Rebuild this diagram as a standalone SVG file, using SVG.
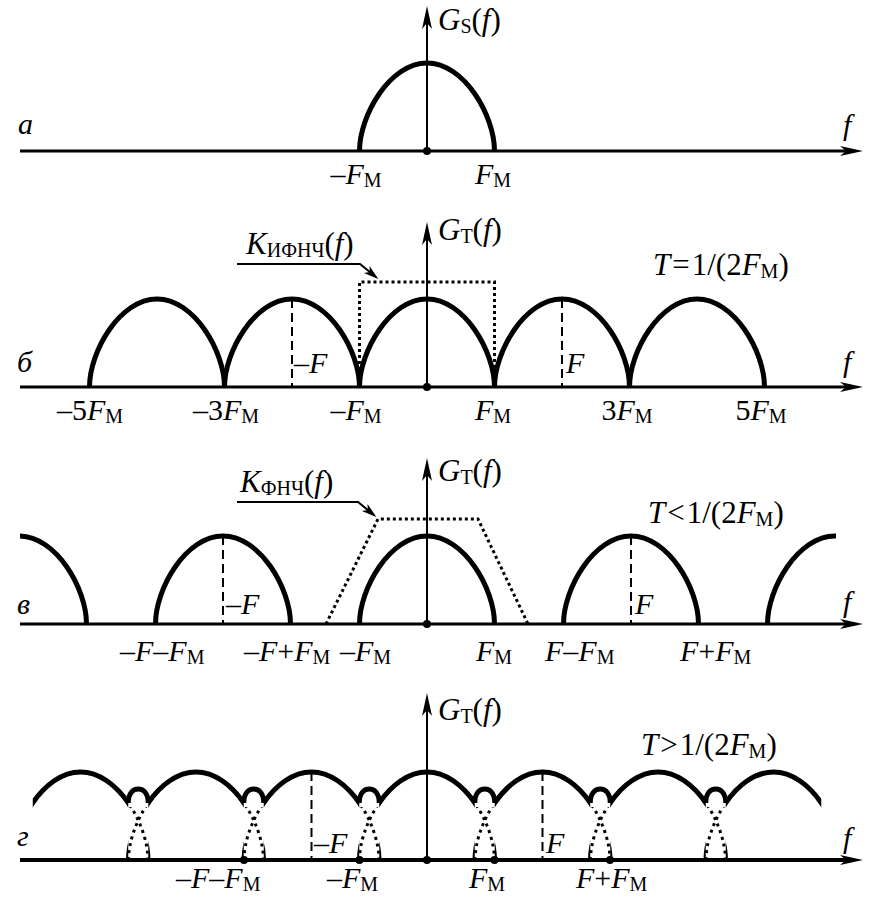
<svg xmlns="http://www.w3.org/2000/svg" xmlns:xlink="http://www.w3.org/1999/xlink" width="877" height="900" viewBox="0 0 877 900" font-family="'Liberation Serif', 'Times New Roman', serif">
<style>
text{font-family:"Liberation Serif","Times New Roman",serif}
.t{font-size:30px;fill:#000}
.b{font-size:31px}
.i{font-style:italic}
.s{font-size:20px;font-style:normal}
.m{text-anchor:middle}
.ax{stroke:#000;stroke-width:3;fill:none}
.axd{stroke:#000;stroke-width:4;fill:none}
.vax{stroke:#000;stroke-width:2;fill:none}
.arc{stroke:#000;stroke-width:5;fill:none}
.dash{stroke:#000;stroke-width:2;stroke-dasharray:9 5;fill:none}
.dot{stroke:#000;stroke-width:3;stroke-dasharray:3 3;fill:none}
.dot2{stroke:#000;stroke-width:3;stroke-dasharray:3 4;fill:none}
.ptr{stroke:#000;stroke-width:2;fill:none}
</style>
<defs>
<path id="arch" d="M-67.5,0 C-67.5,-35.2 -37.26,-88 0,-88 C37.26,-88 67.5,-35.2 67.5,0"/>
<marker id="ah" markerUnits="userSpaceOnUse" orient="auto" overflow="visible" markerWidth="1" markerHeight="1">
<path d="M11,0 L-12,-5 L-6,0 L-12,5 Z" fill="#000"/>
</marker>
<marker id="as" markerUnits="userSpaceOnUse" orient="auto" overflow="visible" markerWidth="1" markerHeight="1">
<path d="M3,0 L-12,-4.5 L-8,0 L-12,4.5 Z" fill="#000"/>
</marker>
<clipPath id="clipC"><rect x="20" y="400" width="816" height="240"/></clipPath>
<clipPath id="clipDs">
<rect x="32.75" y="700" width="95.5" height="162"/>
<rect x="148.25" y="700" width="95.5" height="162"/>
<rect x="263.75" y="700" width="95.5" height="162"/>
<rect x="379.25" y="700" width="95.5" height="162"/>
<rect x="494.75" y="700" width="95.5" height="162"/>
<rect x="610.25" y="700" width="95.5" height="162"/>
<rect x="725.75" y="700" width="95.5" height="162"/>
</clipPath>
<clipPath id="clipDd">
<rect x="127.75" y="807" width="21" height="55"/>
<rect x="243.25" y="807" width="21" height="55"/>
<rect x="358.75" y="807" width="21" height="55"/>
<rect x="474.25" y="807" width="21" height="55"/>
<rect x="589.75" y="807" width="21" height="55"/>
<rect x="705.25" y="807" width="21" height="55"/>
</clipPath>
</defs>

<g id="panel-a">
<use xlink:href="#arch" x="427" y="151" class="arc"/>
<line x1="20" y1="151" x2="852" y2="151" class="ax" marker-end="url(#ah)"/>
<line x1="427" y1="151" x2="427" y2="17" class="vax" marker-end="url(#ah)"/>
<circle cx="427" cy="151" r="4"/>
<text class="t b" x="438" y="30"><tspan class="i">G</tspan><tspan class="s" dy="3">S</tspan><tspan dy="-3">(</tspan><tspan class="i">f</tspan>)</text>
<text class="t i" x="18" y="134">а</text>
<text class="t i" x="843" y="135">f</text>
<text class="t m" x="356" y="184">–<tspan class="i">F</tspan><tspan class="s" dy="3">М</tspan></text>
<text class="t m" x="493" y="184"><tspan class="i">F</tspan><tspan class="s" dy="3">М</tspan></text>
</g>

<g id="panel-b">
<use xlink:href="#arch" x="157" y="387" class="arc"/>
<use xlink:href="#arch" x="292" y="387" class="arc"/>
<use xlink:href="#arch" x="427" y="387" class="arc"/>
<use xlink:href="#arch" x="562" y="387" class="arc"/>
<use xlink:href="#arch" x="697" y="387" class="arc"/>
<line x1="292" y1="299" x2="292" y2="387" class="dash"/>
<line x1="562" y1="299" x2="562" y2="387" class="dash"/>
<path d="M359.5,370 V282 H494.5 V370" class="dot"/>
<line x1="20" y1="387" x2="852" y2="387" class="ax" marker-end="url(#ah)"/>
<line x1="427" y1="387" x2="427" y2="233" class="vax" marker-end="url(#ah)"/>
<circle cx="427" cy="387" r="4"/>
<polyline points="237,264 360,264 376,277" class="ptr" marker-end="url(#as)"/>
<text class="t b" x="246" y="254"><tspan class="i">K</tspan><tspan class="s" dy="3">ИФНЧ</tspan><tspan dy="-3">(</tspan><tspan class="i">f</tspan>)</text>
<text class="t b" x="438" y="240"><tspan class="i">G</tspan><tspan class="s" dy="3">Т</tspan><tspan dy="-3">(</tspan><tspan class="i">f</tspan>)</text>
<text class="t b" x="653" y="275"><tspan class="i">T</tspan><tspan dx="2">=</tspan><tspan dx="2">1/(2</tspan><tspan class="i">F</tspan><tspan class="s" dy="3">М</tspan><tspan dy="-3">)</tspan></text>
<text class="t i" x="17" y="372">б</text>
<text class="t i" x="843" y="372">f</text>
<text class="t" x="294" y="373">–<tspan class="i">F</tspan></text>
<text class="t i" x="566" y="373">F</text>
<text class="t m" x="90" y="420">–5<tspan class="i">F</tspan><tspan class="s" dy="3">М</tspan></text>
<text class="t m" x="226" y="420">–3<tspan class="i">F</tspan><tspan class="s" dy="3">М</tspan></text>
<text class="t m" x="356" y="420">–<tspan class="i">F</tspan><tspan class="s" dy="3">М</tspan></text>
<text class="t m" x="493" y="420"><tspan class="i">F</tspan><tspan class="s" dy="3">М</tspan></text>
<text class="t m" x="627" y="420">3<tspan class="i">F</tspan><tspan class="s" dy="3">М</tspan></text>
<text class="t m" x="761" y="420">5<tspan class="i">F</tspan><tspan class="s" dy="3">М</tspan></text>
</g>

<g id="panel-c">
<g clip-path="url(#clipC)">
<use xlink:href="#arch" x="19" y="624" class="arc"/>
<use xlink:href="#arch" x="223" y="624" class="arc"/>
<use xlink:href="#arch" x="427" y="624" class="arc"/>
<use xlink:href="#arch" x="631" y="624" class="arc"/>
<use xlink:href="#arch" x="835" y="624" class="arc"/>
</g>
<line x1="223" y1="536" x2="223" y2="624" class="dash"/>
<line x1="631" y1="536" x2="631" y2="624" class="dash"/>
<path d="M326,624 L378,519 H478 L528,624" class="dot"/>
<line x1="20" y1="624" x2="852" y2="624" class="ax" marker-end="url(#ah)"/>
<line x1="427" y1="624" x2="427" y2="469" class="vax" marker-end="url(#ah)"/>
<circle cx="427" cy="624" r="4"/>
<polyline points="237,502 358,502 374,515" class="ptr" marker-end="url(#as)"/>
<text class="t b" x="240" y="492"><tspan class="i">K</tspan><tspan class="s" dy="3">ФНЧ</tspan><tspan dy="-3">(</tspan><tspan class="i">f</tspan>)</text>
<text class="t b" x="438" y="481"><tspan class="i">G</tspan><tspan class="s" dy="3">Т</tspan><tspan dy="-3">(</tspan><tspan class="i">f</tspan>)</text>
<text class="t b" x="648" y="523"><tspan class="i">T</tspan><tspan dx="2">&lt;</tspan><tspan dx="2">1/(2</tspan><tspan class="i">F</tspan><tspan class="s" dy="3">М</tspan><tspan dy="-3">)</tspan></text>
<text class="t i" x="17" y="614">в</text>
<text class="t i" x="843" y="612">f</text>
<text class="t" x="226" y="614">–<tspan class="i">F</tspan></text>
<text class="t i" x="635" y="614">F</text>
<text class="t" x="120" y="661">–<tspan class="i">F</tspan>–<tspan class="i">F</tspan><tspan class="s" dy="3">М</tspan></text>
<text class="t" x="244" y="661">–<tspan class="i">F</tspan>+<tspan class="i">F</tspan><tspan class="s" dy="3">М</tspan></text>
<text class="t" x="340" y="661">–<tspan class="i">F</tspan><tspan class="s" dy="3">М</tspan></text>
<text class="t" x="476" y="661"><tspan class="i">F</tspan><tspan class="s" dy="3">М</tspan></text>
<text class="t" x="545" y="661"><tspan class="i">F</tspan>–<tspan class="i">F</tspan><tspan class="s" dy="3">М</tspan></text>
<text class="t" x="680" y="661"><tspan class="i">F</tspan>+<tspan class="i">F</tspan><tspan class="s" dy="3">М</tspan></text>
</g>

<g id="panel-d">
<g clip-path="url(#clipDs)">
<use xlink:href="#arch" x="80.5" y="860" class="arc"/>
<use xlink:href="#arch" x="196" y="860" class="arc"/>
<use xlink:href="#arch" x="311.5" y="860" class="arc"/>
<use xlink:href="#arch" x="427" y="860" class="arc"/>
<use xlink:href="#arch" x="542.5" y="860" class="arc"/>
<use xlink:href="#arch" x="658" y="860" class="arc"/>
<use xlink:href="#arch" x="773.5" y="860" class="arc"/>
</g>
<g clip-path="url(#clipDd)">
<use xlink:href="#arch" x="80.5" y="860" class="dot2"/>
<use xlink:href="#arch" x="196" y="860" class="dot2"/>
<use xlink:href="#arch" x="311.5" y="860" class="dot2"/>
<use xlink:href="#arch" x="427" y="860" class="dot2"/>
<use xlink:href="#arch" x="542.5" y="860" class="dot2"/>
<use xlink:href="#arch" x="658" y="860" class="dot2"/>
<use xlink:href="#arch" x="773.5" y="860" class="dot2"/>
</g>
<path class="arc" d="M128.25,803 C128.25,793 133.25,789 138.25,789 C143.25,789 148.25,793 148.25,803"/>
<path class="arc" d="M243.75,803 C243.75,793 248.75,789 253.75,789 C258.75,789 263.75,793 263.75,803"/>
<path class="arc" d="M359.25,803 C359.25,793 364.25,789 369.25,789 C374.25,789 379.25,793 379.25,803"/>
<path class="arc" d="M474.75,803 C474.75,793 479.75,789 484.75,789 C489.75,789 494.75,793 494.75,803"/>
<path class="arc" d="M590.25,803 C590.25,793 595.25,789 600.25,789 C605.25,789 610.25,793 610.25,803"/>
<path class="arc" d="M705.75,803 C705.75,793 710.75,789 715.75,789 C720.75,789 725.75,793 725.75,803"/>
<line x1="311.5" y1="772" x2="311.5" y2="860" class="dash"/>
<line x1="542.5" y1="772" x2="542.5" y2="860" class="dash"/>
<line x1="20" y1="860" x2="852" y2="860" class="axd" marker-end="url(#ah)"/>
<line x1="427" y1="860" x2="427" y2="704" class="vax" marker-end="url(#ah)"/>
<circle cx="244" cy="860" r="4"/>
<circle cx="359.5" cy="860" r="4"/>
<circle cx="427" cy="860" r="4"/>
<circle cx="494.5" cy="860" r="4"/>
<circle cx="610" cy="860" r="4"/>
<text class="t b" x="438" y="720"><tspan class="i">G</tspan><tspan class="s" dy="3">Т</tspan><tspan dy="-3">(</tspan><tspan class="i">f</tspan>)</text>
<text class="t b" x="641" y="755"><tspan class="i">T</tspan><tspan dx="2">&gt;</tspan><tspan dx="2">1/(2</tspan><tspan class="i">F</tspan><tspan class="s" dy="3">М</tspan><tspan dy="-3">)</tspan></text>
<text class="t i" x="17" y="846">г</text>
<text class="t i" x="843" y="848">f</text>
<text class="t" x="314" y="853">–<tspan class="i">F</tspan></text>
<text class="t i" x="546" y="853">F</text>
<text class="t" x="176" y="888">–<tspan class="i">F</tspan>–<tspan class="i">F</tspan><tspan class="s" dy="3">М</tspan></text>
<text class="t" x="327" y="888">–<tspan class="i">F</tspan><tspan class="s" dy="3">М</tspan></text>
<text class="t" x="469" y="888"><tspan class="i">F</tspan><tspan class="s" dy="3">М</tspan></text>
<text class="t" x="576" y="888"><tspan class="i">F</tspan>+<tspan class="i">F</tspan><tspan class="s" dy="3">М</tspan></text>
</g>
</svg>
